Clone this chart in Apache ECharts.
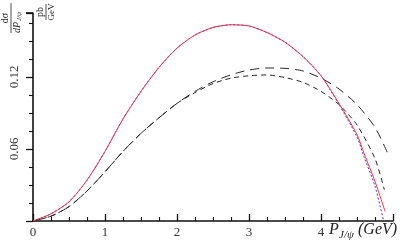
<!DOCTYPE html>
<html>
<head>
<meta charset="utf-8">
<script src="https://cdn.jsdelivr.net/npm/echarts@6/dist/echarts.min.js"></script>
<style>html,body{margin:0;padding:0;background:#fff}#c{width:409px;height:245px}</style>
</head>
<body>
<div id="c"></div>
<script>
// P_J/psi (GeV) sample positions
var xRed = [0, 0.25, 0.5, 0.75, 1.0, 1.25, 1.5, 1.75, 2.0, 2.25, 2.5, 2.75, 3.0, 3.25, 3.5, 3.75, 4.0, 4.25, 4.5, 4.6, 4.75, 4.89];
var yRed = [0, 0.006, 0.016, 0.034, 0.058, 0.085, 0.108, 0.128, 0.144, 0.155, 0.1612, 0.1635, 0.1625, 0.157, 0.149, 0.137, 0.121, 0.098, 0.072, 0.056, 0.033, 0.008];
var xBlue = [0, 0.25, 0.5, 0.75, 1.0, 1.25, 1.5, 1.75, 2.0, 2.25, 2.5, 2.75, 3.0, 3.25, 3.5, 3.75, 4.0, 4.25, 4.5, 4.6, 4.75, 4.87];
var yBlue = [0, 0.006, 0.016, 0.034, 0.058, 0.085, 0.108, 0.128, 0.144, 0.155, 0.1612, 0.1635, 0.1625, 0.157, 0.149, 0.137, 0.121, 0.097, 0.070, 0.053, 0.029, 0];
var xLong = [0, 0.25, 0.5, 0.75, 1.0, 1.25, 1.5, 1.75, 2.0, 2.25, 2.5, 2.75, 3.0, 3.25, 3.5, 3.75, 4.0, 4.25, 4.5, 4.75, 4.93];
var yLong = [0, 0.004, 0.012, 0.025, 0.041, 0.058, 0.073, 0.086, 0.098, 0.108, 0.116, 0.1218, 0.1258, 0.1275, 0.1272, 0.125, 0.119, 0.110, 0.097, 0.078, 0.056];
var xShort = [0, 0.25, 0.5, 0.75, 1.0, 1.25, 1.5, 1.75, 2.0, 2.25, 2.5, 2.75, 3.0, 3.25, 3.5, 3.75, 4.0, 4.25, 4.5, 4.75, 4.88];
var yShort = [0, 0.004, 0.012, 0.025, 0.041, 0.058, 0.073, 0.086, 0.098, 0.107, 0.1145, 0.119, 0.121, 0.1217, 0.1195, 0.1155, 0.108, 0.097, 0.080, 0.052, 0.026];
var xTickLabels = ['0', '1', '2', '3', '4'];
var yTickLabels = ['0.06', '0.12'];

function pairs(xs, ys) { return xs.map(function (x, i) { return [x, ys[i]]; }); }

var FONT = 'Liberation Serif';
var chart = echarts.init(document.getElementById('c'), null, { renderer: 'canvas' });
var G = { left: 33, right: 16, top: 13, bottom: 24 };
var R = Math.PI / 2;

chart.setOption({
  animation: false,
  backgroundColor: '#fff',
  grid: { left: G.left, right: G.right, top: G.top, bottom: G.bottom },
  xAxis: {
    type: 'value', min: 0, max: 5, interval: 1,
    axisLine: { show: true, onZero: false, lineStyle: { color: '#111', width: 1.6 } },
    axisTick: { show: true, inside: true, length: 7, lineStyle: { color: '#111', width: 1.3 } },
    minorTick: { show: true, splitNumber: 4, length: 4, lineStyle: { color: '#111', width: 1.1 } },
    splitLine: { show: false },
    axisLabel: {
      margin: 5, color: '#333', fontFamily: FONT, fontSize: 13,
      formatter: function (v) { var i = Math.round(v); return (Math.abs(v - i) < 1e-6 && i < xTickLabels.length) ? xTickLabels[i] : ''; }
    }
  },
  yAxis: {
    type: 'value', min: 0, max: 0.1733, interval: 0.06,
    axisLine: { show: true, lineStyle: { color: '#111', width: 1.6 } },
    axisTick: { show: true, inside: false, length: 7, lineStyle: { color: '#111', width: 1.3 } },
    minorTick: { show: true, splitNumber: 4, length: 4, lineStyle: { color: '#111', width: 1.1 } },
    splitLine: { show: false },
    axisLabel: {
      rotate: 90, margin: 12, color: '#333', fontFamily: FONT, fontSize: 13,
      formatter: function (v) { var k = Math.round(v / 0.06); if (k >= 1 && k <= yTickLabels.length && Math.abs(v - k * 0.06) < 1e-6) return yTickLabels[k - 1]; return ''; }
    }
  },
  series: [
    { type: 'line', data: pairs(xBlue, yBlue), showSymbol: false, smooth: 0.25, z: 2,
      lineStyle: { color: '#3a3ad0', width: 1, type: [2, 2] } },
    { type: 'line', data: pairs(xRed, yRed), showSymbol: false, smooth: 0.25, z: 3,
      lineStyle: { color: '#e8344a', width: 1 } },
    { type: 'line', data: pairs(xLong, yLong), showSymbol: false, smooth: 0.25, z: 2,
      lineStyle: { color: '#222', width: 1, type: [9, 6] } },
    { type: 'line', data: pairs(xShort, yShort), showSymbol: false, smooth: 0.25, z: 2,
      lineStyle: { color: '#222', width: 1, type: [5, 4] } }
  ],
  graphic: [
    { type: 'line', shape: { x1: G.left - 7, y1: G.top, x2: G.left, y2: G.top }, style: { stroke: '#111', lineWidth: 1.6 } },
    { type: 'text', x: 329, y: 222, style: { text: 'P', font: 'italic 16px "' + FONT + '"', fill: '#222', align: 'left', verticalAlign: 'top' } },
    { type: 'text', x: 339, y: 230, style: { text: 'J/ψ', font: 'italic 11px "' + FONT + '"', fill: '#222', align: 'left', verticalAlign: 'top' } },
    { type: 'text', x: 358, y: 222, style: { text: '(GeV)', font: 'italic 16px "' + FONT + '"', fill: '#222', align: 'left', verticalAlign: 'top' } },
    // dσ / dP_J/ψ : each element rotated individually (local frame: x up, y right after rotation)
    { type: 'text', x: 10, y: 18, rotation: R, style: { text: 'dσ', font: '10px "' + FONT + '"', fill: '#222', align: 'center', verticalAlign: 'bottom' } },
    { type: 'line', shape: { x1: 11, y1: 3, x2: 11, y2: 33 }, style: { stroke: '#222', lineWidth: 0.8 } },
    { type: 'text', x: 12, y: 33, rotation: R, style: { text: 'dP', font: 'italic 10px "' + FONT + '"', fill: '#222', align: 'left', verticalAlign: 'top' } },
    { type: 'text', x: 16, y: 21, rotation: R, style: { text: 'J/ψ', font: 'italic 7px "' + FONT + '"', fill: '#222', align: 'left', verticalAlign: 'top' } }
  ]
});

// pb / GeV via zrender group, rotation set after creation
var zr = chart.getZr();
var EG = echarts.graphic;
function txt(t, x, y, font, align, va) {
  return new EG.Text({ x: x, y: y, style: { text: t, font: font, fill: '#222', align: align, verticalAlign: va } });
}
var g2 = new EG.Group();
g2.x = 46; g2.y = 12; g2.rotation = R;
g2.add(txt('pb', 0, -1, '10px "' + FONT + '"', 'center', 'bottom'));
g2.add(new EG.Line({ shape: { x1: -8, y1: 0, x2: 8, y2: 0 }, style: { stroke: '#222', lineWidth: 0.8 } }));
g2.add(txt('GeV', 0, 1, '9px "' + FONT + '"', 'center', 'top'));
g2.dirty && g2.dirty();
zr.add(g2);
zr.refresh();
</script>
</body>
</html>
